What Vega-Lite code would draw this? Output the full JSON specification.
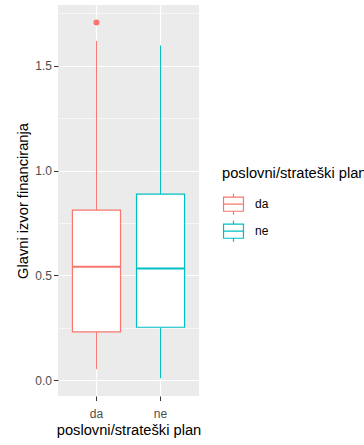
{
  "$schema": "https://vega.github.io/schema/vega-lite/v6.json",
  "width": 141,
  "height": 391,
  "autosize": "none",
  "padding": {"left": 58, "top": 5, "right": 165, "bottom": 49},
  "background": "white",
  "config": {
    "font": "Liberation Sans",
    "view": {"fill": "#EBEBEB", "stroke": null},
    "axis": {
      "domain": false,
      "gridColor": "white",
      "tickColor": "#333333",
      "tickSize": 4.5,
      "tickWidth": 1,
      "labelColor": "#4D4D4D",
      "labelFontSize": 12,
      "titleColor": "black",
      "titleFontSize": 14.7,
      "titleFontWeight": "normal"
    }
  },
  "datasets": {
    "stats": [
      {"plan": "da", "lower": 0.052, "q1": 0.23, "median": 0.541, "q3": 0.811, "upper": 1.618},
      {"plan": "ne", "lower": 0.008, "q1": 0.252, "median": 0.532, "q3": 0.887, "upper": 1.597}
    ],
    "outliers": [
      {"plan": "da", "value": 1.706}
    ]
  },
  "encoding": {
    "x": {
      "field": "plan",
      "type": "nominal",
      "title": "poslovni/strateški plan",
      "scale": {"domain": ["da", "ne"], "paddingInner": 0.25, "paddingOuter": 0.225},
      "axis": {"labelAngle": 0, "bandPosition": 0.5, "gridWidth": 1.2, "labelPadding": 8, "titlePadding": 3, "grid": true}
    }
  },
  "layer": [
    {
      "data": {"name": "stats"},
      "mark": {"type": "rule", "strokeWidth": 1},
      "encoding": {
        "y": {
          "field": "lower",
          "type": "quantitative",
          "title": "Glavni izvor financiranja",
          "scale": {"domain": [-0.076, 1.79], "nice": false, "zero": false},
          "axis": {
            "values": [0, 0.25, 0.5, 0.75, 1, 1.25, 1.5, 1.75],
            "labelExpr": "datum.value % 0.5 === 0 ? format(datum.value, '.1f') : ''",
            "gridWidth": {"condition": {"test": "datum.value % 0.5 === 0", "value": 1.2}, "value": 0.6},
            "tickOpacity": {"condition": {"test": "datum.value % 0.5 === 0", "value": 1}, "value": 0},
            "labelPadding": 2,
            "titlePadding": 4
          }
        },
        "y2": {"field": "q1"},
        "stroke": {
          "field": "plan",
          "type": "nominal",
          "title": "poslovni/strateški plan",
          "scale": {"domain": ["da", "ne"], "range": ["#F8766D", "#00BFC4"]},
          "legend": {
            "orient": "none",
            "legendX": 164,
            "legendY": 161,
            "titleFontSize": 14.7,
            "titleFontWeight": "normal",
            "titleColor": "black",
            "titleBaseline": "top",
            "titlePadding": 12,
            "labelFontSize": 12,
            "labelColor": "black",
            "labelOffset": 10,
            "rowPadding": 0,
            "symbolSize": 441,
            "symbolType": "M-0.95,-0.67H0.95V0.67H-0.95Z M-0.95,0H0.95 M0,-0.67V-1 M0,0.67V1",
            "symbolStrokeWidth": 1.2,
            "symbolFillColor": "white"
          }
        }
      }
    },
    {
      "data": {"name": "stats"},
      "mark": {"type": "rule", "strokeWidth": 1},
      "encoding": {
        "y": {"field": "q3", "type": "quantitative"},
        "y2": {"field": "upper"},
        "stroke": {"field": "plan", "type": "nominal"}
      }
    },
    {
      "data": {"name": "stats"},
      "mark": {"type": "bar", "fill": "white", "strokeWidth": 1.2},
      "encoding": {
        "y": {"field": "q1", "type": "quantitative"},
        "y2": {"field": "q3"},
        "stroke": {"field": "plan", "type": "nominal"}
      }
    },
    {
      "data": {"name": "stats"},
      "mark": {"type": "bar", "fill": "white", "strokeWidth": 2},
      "encoding": {
        "y": {"field": "median", "type": "quantitative"},
        "y2": {"field": "median"},
        "stroke": {"field": "plan", "type": "nominal"}
      }
    },
    {
      "data": {"name": "outliers"},
      "mark": {"type": "point", "filled": true, "fill": "#F8766D", "size": 36, "opacity": 1, "strokeWidth": 0},
      "encoding": {
        "y": {"field": "value", "type": "quantitative"},
        "stroke": {"field": "plan", "type": "nominal"}
      }
    }
  ]
}
